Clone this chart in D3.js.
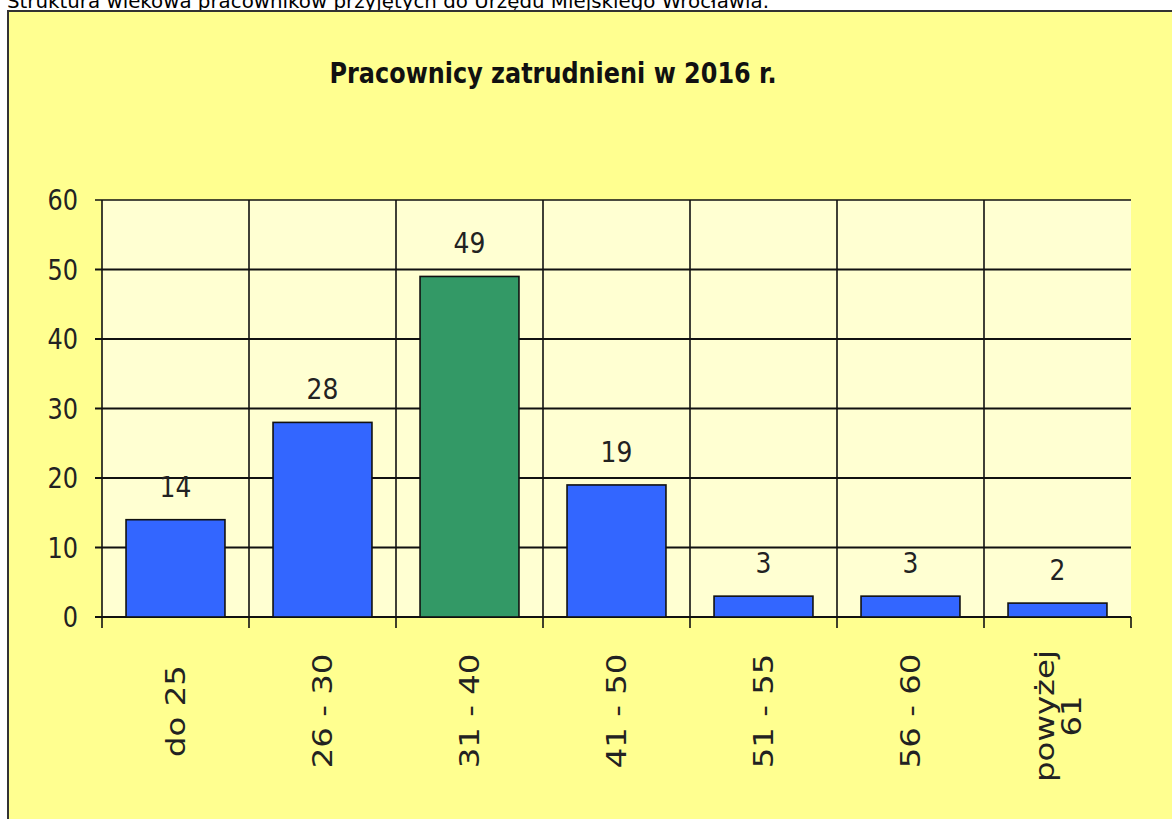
<!DOCTYPE html>
<html>
<head>
<meta charset="utf-8">
<script src="https://cdn.jsdelivr.net/npm/d3@7"></script>
<style>
  html, body { margin: 0; padding: 0; background: #ffffff; }
  svg { display: block; }
</style>
</head>
<body>
<svg id="chart" width="1172" height="819"></svg>
<script>
const pageTitle = "Struktura wiekowa pracowników przyjętych do Urzędu Miejskiego Wrocławia.";
const chartTitle = "Pracownicy zatrudnieni w 2016 r.";
const categories = ["do 25", "26 - 30", "31 - 40", "41 - 50", "51 - 55", "56 - 60", "powyżej 61"];
const categoryLines = [["do 25"], ["26 - 30"], ["31 - 40"], ["41 - 50"], ["51 - 55"], ["56 - 60"], ["powyżej", "61"]];
const values = [14, 28, 49, 19, 3, 3, 2];
const highlight = ["31 - 40"];
const yTicks = [0, 10, 20, 30, 40, 50, 60];

const svg = d3.select("#chart");
const W = 1172, H = 819;
const font = "'DejaVu Sans', Verdana, sans-serif";

// page caption (clipped by the chart frame)
svg.append("text")
  .attr("x", 7).attr("y", 8)
  .attr("font-family", font).attr("font-size", 20)
  .attr("textLength", 762).attr("lengthAdjust", "spacingAndGlyphs")
  .attr("fill", "#000")
  .text(pageTitle);

// chart frame
svg.append("rect")
  .attr("x", 8).attr("y", 11).attr("width", W + 10).attr("height", H)
  .attr("fill", "#FFFF90").attr("stroke", "#333").attr("stroke-width", 2);

const plot = { left: 102, right: 1131, top: 200, bottom: 617 };

const x = d3.scaleBand().domain(categories)
  .range([plot.left, plot.right]).paddingInner(0.327).paddingOuter(0.1635);
const xEdge = d3.scaleLinear().domain([0, categories.length]).range([plot.left, plot.right]);
const y = d3.scaleLinear().domain([0, 60]).range([plot.bottom, plot.top]);

// plot background
svg.append("rect")
  .attr("x", plot.left).attr("y", plot.top)
  .attr("width", plot.right - plot.left).attr("height", plot.bottom - plot.top)
  .attr("fill", "#FFFFD2");

// title
svg.append("text")
  .attr("transform", "translate(553,83) scale(1,1.2)")
  .attr("text-anchor", "middle")
  .attr("font-family", font).attr("font-size", 23).attr("font-weight", "bold")
  .attr("textLength", 447).attr("lengthAdjust", "spacingAndGlyphs")
  .attr("fill", "#111")
  .text(chartTitle);

// horizontal gridlines with left ticks
svg.append("g").selectAll("line").data(yTicks).join("line")
  .attr("x1", plot.left - 7).attr("x2", plot.right)
  .attr("y1", d => y(d)).attr("y2", d => y(d))
  .attr("stroke", "#111").attr("stroke-width", d => d === 60 ? 1.5 : 2);

// vertical separators (category boundaries) and bottom ticks
const edges = d3.range(categories.length + 1);
svg.append("g").selectAll("line").data(edges).join("line")
  .attr("x1", d => xEdge(d)).attr("x2", d => xEdge(d))
  .attr("y1", d => (d === categories.length ? plot.bottom : plot.top))
  .attr("y2", plot.bottom + 11)
  .attr("stroke", "#111").attr("stroke-width", 1.6);

// y labels
svg.append("g").selectAll("text").data(yTicks).join("text")
  .attr("transform", d => `translate(78,${y(d)}) scale(1,1.2)`)
  .attr("text-anchor", "end").attr("dy", "0.36em")
  .attr("font-family", font).attr("font-size", 24)
  .attr("fill", "#222")
  .text(d => d);

// bars
svg.append("g").selectAll("rect").data(values).join("rect")
  .attr("x", (d, i) => x(categories[i]))
  .attr("width", x.bandwidth())
  .attr("y", d => y(d))
  .attr("height", d => y(0) - y(d))
  .attr("fill", (d, i) => highlight.includes(categories[i]) ? "#339966" : "#3366FF")
  .attr("stroke", "#111").attr("stroke-width", 1.6);

// value labels
svg.append("g").selectAll("text").data(values).join("text")
  .attr("transform", (d, i) => `translate(${x(categories[i]) + x.bandwidth() / 2},${y(d) - 23}) scale(1,1.15)`)
  .attr("text-anchor", "middle")
  .attr("font-family", font).attr("font-size", 25)
  .attr("fill", "#222")
  .text(d => d);

// category labels (rotated)
const cat = svg.append("g").selectAll("text").data(categoryLines).join("text")
  .attr("transform", (d, i) => `translate(${x(categories[i]) + x.bandwidth() / 2},${d.length > 1 ? 716 : 711}) scale(1,1.2) rotate(-90)`)
  .attr("text-anchor", "middle")
  .attr("font-family", font).attr("font-size", 27)
  .attr("fill", "#222");
cat.each(function (lines) {
  const t = d3.select(this);
  const n = lines.length;
  lines.forEach((ln, j) => {
    t.append("tspan")
      .attr("x", 0)
      .attr("y", 0)
      .attr("dy", `${(j - (n - 1) / 2) * 1.0 + 0.36}em`)
      .text(ln);
  });
});
</script>
</body>
</html>
